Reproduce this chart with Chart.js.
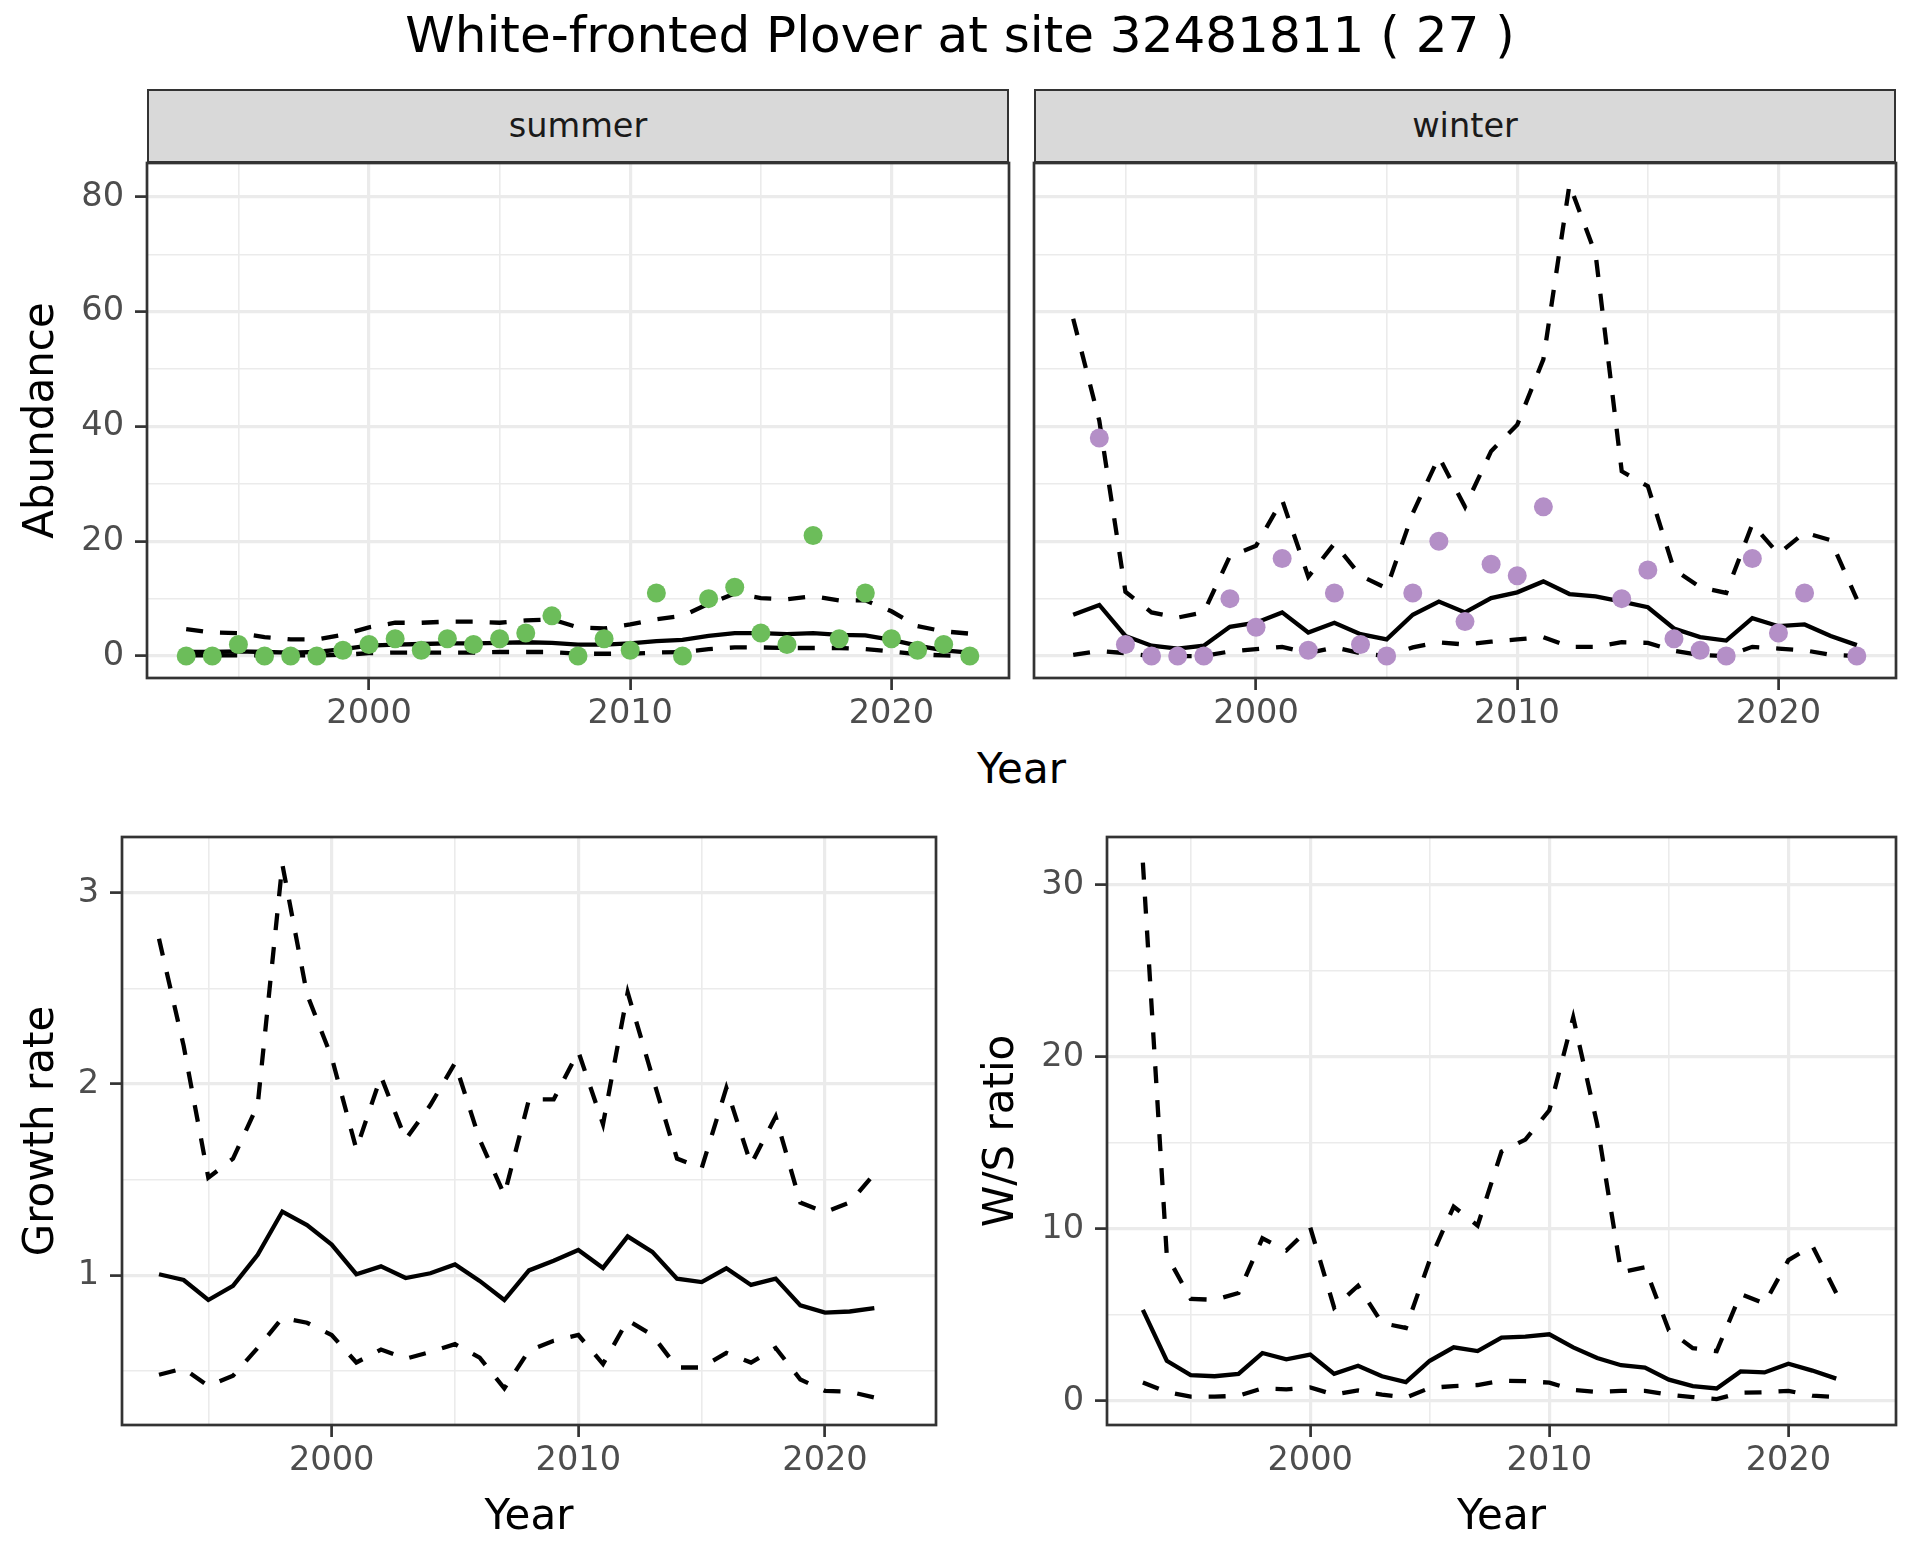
<!DOCTYPE html>
<html>
<head>
<meta charset="utf-8">
<script src="https://cdn.jsdelivr.net/npm/chart.js@4.4.0/dist/chart.umd.min.js"></script>
<style>
  body { margin: 0; background: #ffffff; }
  #page { position: relative; width: 1920px; height: 1560px; font-family: 'DejaVu Sans', sans-serif; overflow: hidden; }
  canvas { position: absolute; }
  #title { position: absolute; left: 0; width: 1920px; top: 5px; height: 60px; line-height: 60px; text-align: center; font-size: 50px; color: #000; white-space: nowrap; }
  .strip { position: absolute; top: 89px; height: 74px; line-height: 70px; box-sizing: border-box; border: 2px solid #333333; background: #D9D9D9; color: #1A1A1A; font-size: 33.6px; text-align: center; }
  #topYear { position: absolute; left: 147px; width: 1749px; top: 744px; height: 50px; line-height: 50px; text-align: center; font-size: 42px; color: #000; }
</style>
</head>
<body>
<div id="page">
  <div id="title">White-fronted Plover at site 32481811 ( 27 )</div>
  <canvas id="summerChart" width="1020" height="617" style="left:0px;top:123px"></canvas>
  <canvas id="winterChart" width="900" height="617" style="left:1020px;top:123px"></canvas>
  <canvas id="growthChart" width="960" height="763" style="left:0px;top:797px"></canvas>
  <canvas id="ratioChart" width="960" height="763" style="left:960px;top:797px"></canvas>
  <div class="strip" style="left:147px;width:862px">summer</div>
  <div class="strip" style="left:1034px;width:862px">winter</div>
  <div id="topYear">Year</div>
</div>
<script>
// years of the counts (top panels) and of the rates (bottom panels)
const years = [1993, 1994, 1995, 1996, 1997, 1998, 1999, 2000, 2001, 2002, 2003, 2004, 2005, 2006, 2007, 2008,
               2009, 2010, 2011, 2012, 2013, 2014, 2015, 2016, 2017, 2018, 2019, 2020, 2021, 2022, 2023];
const rateYears = [1993, 1994, 1995, 1996, 1997, 1998, 1999, 2000, 2001, 2002, 2003, 2004, 2005, 2006, 2007,
                   2008, 2009, 2010, 2011, 2012, 2013, 2014, 2015, 2016, 2017, 2018, 2019, 2020, 2021, 2022];

// summer counts and fitted abundance with limits
const summerCounts = [0, 0, 2, 0, 0, 0, 1, 2, 3, 1, 3, 2, 3, 4, 7, 0, 3, 1, 11, 0, 10, 12, 4, 2, 21, 3, 11, 3, 1, 2, 0];
const summerTrend = [0.7, 0.7, 0.8, 0.7, 0.6, 0.7, 1.2, 1.8, 2.0, 2.1, 2.2, 2.2, 2.3, 2.4, 2.3, 2.0, 2.0, 2.2, 2.6, 2.8,
                     3.5, 4.0, 4.0, 3.8, 4.0, 3.7, 3.6, 2.8, 1.8, 1.0, 0.6];
const summerUpper = [4.7, 4.1, 4.0, 3.3, 2.9, 2.9, 3.7, 5.0, 5.8, 5.8, 6.0, 6.0, 5.8, 6.2, 6.4, 5.0, 4.8, 5.5, 6.4, 7.0,
                     9.1, 10.9, 10.1, 9.9, 10.4, 9.7, 9.7, 7.8, 5.2, 4.3, 3.9];
const summerLower = [0.1, 0.1, 0.1, 0.1, 0.1, 0.1, 0.2, 0.5, 0.6, 0.6, 0.6, 0.6, 0.7, 0.7, 0.7, 0.4, 0.4, 0.4, 0.6, 0.7,
                     1.2, 1.5, 1.5, 1.4, 1.4, 1.4, 1.2, 0.8, 0.3, 0.1, 0.0];

// winter counts (null = no count that year) and fitted abundance with limits
const winterCounts = [null, 38, 2, 0, 0, 0, 10, 5, 17, 1, 11, 2, 0, 11, 20, 6, 16, 14, 26, null, null, 10, 15, 3, 1, 0,
                      17, 4, 11, null, 0];
const winterTrend = [7.2, 8.9, 3.5, 1.8, 1.3, 1.8, 5.1, 5.8, 7.6, 4.1, 5.8, 3.8, 2.9, 7.2, 9.5, 7.6, 10.1, 11.1, 13.0,
                     10.8, 10.4, 9.5, 8.5, 4.8, 3.3, 2.7, 6.6, 5.2, 5.5, 3.5, 1.9];
const winterUpper = [58.8, 41.0, 11.2, 7.6, 6.7, 7.6, 17.4, 19.2, 27.2, 13.8, 19.6, 14.0, 11.8, 24.9, 34.7, 26.0, 35.7,
                     40.3, 51.7, 82.2, 70.0, 32.2, 29.6, 15.1, 12.0, 11.0, 23.0, 17.8, 21.5, 20.2, 9.9];
const winterLower = [0.2, 0.9, 0.5, 0.0, 0.0, 0.0, 0.8, 1.2, 1.6, 0.5, 1.5, 0.5, 0.0, 1.5, 2.4, 2.0, 2.5, 2.9, 3.3, 1.6,
                     1.6, 2.4, 2.3, 0.9, 0.2, 0.0, 1.6, 1.3, 1.0, 0.2, 0.0];

// growth rate
const growthTrend = [1.005, 0.975, 0.87, 0.944, 1.107, 1.333, 1.262, 1.16, 1.005, 1.046, 0.985, 1.01, 1.056, 0.97, 0.87,
                     1.025, 1.076, 1.132, 1.038, 1.203, 1.122, 0.982, 0.964, 1.036, 0.949, 0.982, 0.842, 0.804, 0.81, 0.827];
const growthUpper = [2.76, 2.2, 1.51, 1.61, 1.89, 3.15, 2.47, 2.14, 1.66, 2.04, 1.71, 1.89, 2.11, 1.71, 1.42, 1.92,
                     1.92, 2.17, 1.79, 2.48, 2.04, 1.61, 1.56, 1.98, 1.58, 1.83, 1.38, 1.33, 1.38, 1.53];
const growthLower = [0.479, 0.512, 0.42, 0.474, 0.619, 0.776, 0.751, 0.687, 0.543, 0.611, 0.563, 0.598, 0.639, 0.568,
                     0.408, 0.606, 0.657, 0.687, 0.535, 0.764, 0.687, 0.517, 0.517, 0.593, 0.543, 0.619, 0.454, 0.395,
                     0.39, 0.36];

// winter / summer ratio
const ratioTrend = [5.3, 2.34, 1.5, 1.44, 1.58, 2.79, 2.42, 2.7, 1.58, 2.05, 1.44, 1.1, 2.34, 3.12, 2.9, 3.69, 3.74,
                    3.88, 3.12, 2.5, 2.08, 1.94, 1.24, 0.87, 0.73, 1.72, 1.66, 2.17, 1.77, 1.3];
const ratioUpper = [31.3, 8.47, 5.94, 5.88, 6.28, 9.46, 8.75, 10.1, 5.43, 6.7, 4.53, 4.25, 8.19, 11.3, 10.2, 14.5, 15.2,
                    16.9, 22.3, 16.1, 7.49, 7.77, 4.11, 3.07, 2.9, 6.22, 5.66, 8.19, 9.03, 6.28];
const ratioLower = [1.07, 0.53, 0.25, 0.25, 0.31, 0.73, 0.68, 0.79, 0.37, 0.62, 0.37, 0.2, 0.76, 0.87, 0.93, 1.18, 1.15,
                    1.07, 0.65, 0.53, 0.59, 0.59, 0.37, 0.23, 0.11, 0.48, 0.51, 0.59, 0.31, 0.23];

// grid lines (major + minor) and the labelled ones
const yearGrid = [1995, 2000, 2005, 2010, 2015, 2020];
const yearLabels = [2000, 2010, 2020];
const abundanceGrid = [0, 10, 20, 30, 40, 50, 60, 70, 80];
const abundanceLabels = [0, 20, 40, 60, 80];
const growthGrid = [0.5, 1, 1.5, 2, 2.5, 3];
const growthLabels = [1, 2, 3];
const ratioGrid = [0, 5, 10, 15, 20, 25, 30];
const ratioLabels = [0, 10, 20, 30];

Chart.defaults.font.family = "'DejaVu Sans', sans-serif";

const isIn = (list, v) => list.some(t => Math.abs(t - v) < 1e-9);
const xy = (xs, ys) => xs.map((x, i) => ({ x: x, y: ys[i] }));

// ggplot-like panel border
const panelBorder = {
    id: 'panelBorder',
    afterDraw(chart) {
        const { ctx, chartArea: a } = chart;
        ctx.save();
        ctx.strokeStyle = '#333333';
        ctx.lineWidth = 2.7;
        ctx.strokeRect(a.left, a.top, a.right - a.left, a.bottom - a.top);
        ctx.restore();
    }
};

function makeAxis(o) {
    return {
        type: 'linear',
        min: o.min,
        max: o.max,
        afterBuildTicks: axis => { axis.ticks = o.grid.map(v => ({ value: v })); },
        afterFit: axis => { if (o.horizontal) axis.height = o.size; else axis.width = o.size; },
        border: { display: false },
        grid: {
            color: '#EBEBEB',
            lineWidth: c => (c.tick && isIn(o.labels, c.tick.value)) ? 3.2 : 1.6,
            drawTicks: o.showLabels,
            tickLength: 12,
            tickWidth: 2.7,
            tickColor: c => (c.tick && isIn(o.labels, c.tick.value)) ? '#333333' : 'rgba(0,0,0,0)'
        },
        ticks: {
            display: o.showLabels,
            autoSkip: false,
            maxRotation: 0,
            padding: o.horizontal ? 4 : 11,
            color: '#4D4D4D',
            font: { size: 33.6 },
            callback: v => isIn(o.labels, v) ? String(v) : ''
        },
        title: o.title
            ? { display: true, text: o.title, color: '#000000', font: { size: 42 }, padding: o.titlePad }
            : { display: false }
    };
}

function pointSet(xs, ys, color) {
    return { data: xy(xs, ys), showLine: false, pointRadius: 9.5, pointBackgroundColor: color,
             pointBorderWidth: 0, pointBorderColor: color };
}

function lineSet(xs, ys, dashed) {
    return { data: xy(xs, ys), showLine: true, borderColor: '#000000', borderWidth: 4.3,
             borderDash: dashed ? [17, 17] : [], pointRadius: 0, tension: 0, fill: false };
}

function makePanel(id, datasets, padding, xAxis, yAxis) {
    return new Chart(document.getElementById(id).getContext('2d'), {
        type: 'scatter',
        data: { datasets: datasets },
        options: {
            responsive: false,
            animation: false,
            events: [],
            layout: { padding: padding },
            plugins: { legend: { display: false }, tooltip: { enabled: false } },
            scales: { x: xAxis, y: yAxis }
        },
        plugins: [panelBorder]
    });
}

// Summer abundance
makePanel('summerChart', [
    pointSet(years, summerCounts, '#6CBD5A'),
    lineSet(years, summerTrend, false),
    lineSet(years, summerUpper, true),
    lineSet(years, summerLower, true)
], { top: 40, right: 11, left: 0, bottom: 0 },
    makeAxis({ min: 1991.5, max: 2024.5, grid: yearGrid, labels: yearLabels, showLabels: true, horizontal: true, size: 62 }),
    makeAxis({ min: -3.83, max: 85.93, grid: abundanceGrid, labels: abundanceLabels, showLabels: true, size: 147,
               title: 'Abundance', titlePad: { top: 17, bottom: 0 } }));

// Winter abundance
makePanel('winterChart', [
    pointSet(years, winterCounts, '#B48FC7'),
    lineSet(years, winterTrend, false),
    lineSet(years, winterUpper, true),
    lineSet(years, winterLower, true)
], { top: 40, right: 24, left: 0, bottom: 0 },
    makeAxis({ min: 1991.5, max: 2024.5, grid: yearGrid, labels: yearLabels, showLabels: true, horizontal: true, size: 62 }),
    makeAxis({ min: -3.83, max: 85.93, grid: abundanceGrid, labels: abundanceLabels, showLabels: false, size: 14 }));

// Growth rate
makePanel('growthChart', [
    lineSet(rateYears, growthTrend, false),
    lineSet(rateYears, growthUpper, true),
    lineSet(rateYears, growthLower, true)
], { top: 40, right: 24, left: 0, bottom: 0 },
    makeAxis({ min: 1991.5, max: 2024.5, grid: yearGrid, labels: yearLabels, showLabels: true, horizontal: true, size: 135,
               title: 'Year', titlePad: { top: 0, bottom: 17 } }),
    makeAxis({ min: 0.216, max: 3.293, grid: growthGrid, labels: growthLabels, showLabels: true, size: 122,
               title: 'Growth rate', titlePad: { top: 17, bottom: 0 } }));

// W/S ratio
makePanel('ratioChart', [
    lineSet(rateYears, ratioTrend, false),
    lineSet(rateYears, ratioUpper, true),
    lineSet(rateYears, ratioLower, true)
], { top: 40, right: 24, left: 0, bottom: 0 },
    makeAxis({ min: 1991.5, max: 2024.5, grid: yearGrid, labels: yearLabels, showLabels: true, horizontal: true, size: 135,
               title: 'Year', titlePad: { top: 0, bottom: 17 } }),
    makeAxis({ min: -1.395, max: 32.79, grid: ratioGrid, labels: ratioLabels, showLabels: true, size: 147,
               title: 'W/S ratio', titlePad: { top: 17, bottom: 0 } }));
</script>
</body>
</html>
